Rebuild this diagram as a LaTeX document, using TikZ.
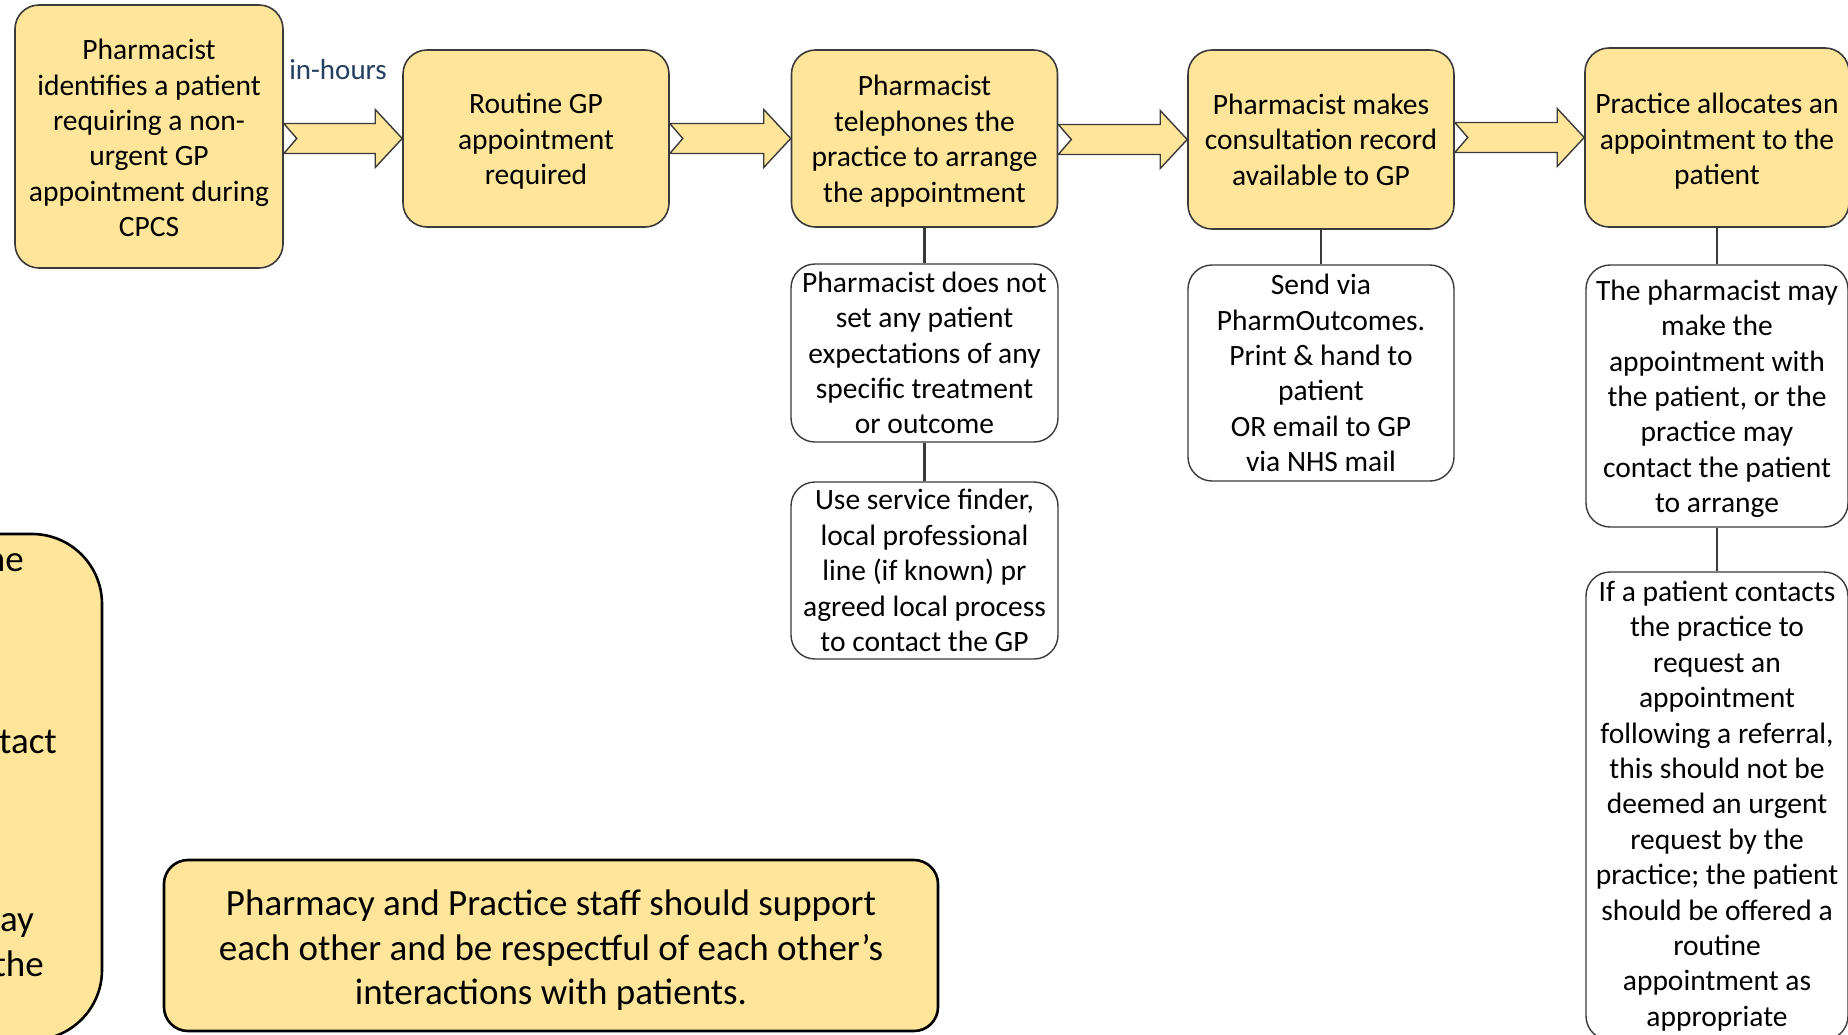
\documentclass[tikz,border=0pt]{standalone}
\usepackage{fontspec}
\setmainfont{Carlito}
\usetikzlibrary{calc}
\definecolor{boxfill}{HTML}{FFE599}
\definecolor{boxline}{HTML}{3A3A3A}
\definecolor{labelblue}{HTML}{243F60}
\tikzset{
  stage/.style={draw=boxline, fill=boxfill, line width=1.6pt, rounded corners=24pt,
    minimum width=266pt, minimum height=177pt, inner sep=0pt, align=center,
    font=\fontsize{29.5}{35.4}\selectfont},
  note/.style={draw=boxline, fill=white, line width=1.4pt, rounded corners=24pt,
    minimum width=266pt, inner sep=0pt, align=center,
    font=\fontsize{29.5}{35.4}\selectfont},
  banner/.style={draw=black, fill=boxfill, line width=2.6pt, rounded corners=24pt,
    align=center, inner sep=0pt, font=\fontsize{37}{44.5}\selectfont},
  link/.style={draw=boxline, line width=2.2pt},
  flow/.style={draw=boxline, fill=boxfill, line width=1.4pt, line join=miter},
  frag/.style={anchor=base east, inner sep=0pt, font=\fontsize{37}{44.5}\selectfont},
}
\newcommand\lowered[2]{\raisebox{-#1}[\height][\depth]{\begin{tabular}{@{}c@{}}#2\end{tabular}}}
\newcommand\flowarrow[2]{%
  \path (#1.east |- #2.west) coordinate (fa-t) (#2.west) coordinate (fa-h);
  \draw[flow] ($(fa-t)+(0,-15)$) -- ($(fa-h)+(-27,-15)$) -- ($(fa-h)+(-27,-29)$)
    -- (fa-h) -- ($(fa-h)+(-27,29)$) -- ($(fa-h)+(-27,15)$) -- ($(fa-t)+(0,15)$)
    -- ($(fa-t)+(13,0)$) -- cycle;}
\begin{document}
\begin{tikzpicture}[x=1pt,y=-1pt]
\useasboundingbox (0,0) rectangle (1848,1034);
\clip (0,0) rectangle (1848,1034);
\fill[white] (0,0) rectangle (1848,1034);

% main stages
\node[stage, minimum width=268pt, minimum height=263pt] (b1) at (149,136.5)
  {\lowered{4.7pt}{Pharmacist\\identifies a patient\\requiring a non-\\urgent GP\\appointment during\\CPCS}};
\node[stage] (b2) at (536,138.5) {\lowered{3.5pt}{Routine GP\\appointment\\required}};
\node[stage] (b3) at (924.5,138.5) {\lowered{3.5pt}{Pharmacist\\telephones the\\practice to arrange\\the appointment}};
\node[stage, minimum height=179pt] (b4) at (1321,139.5) {Pharmacist makes\\consultation record\\available to GP};
\node[stage, minimum width=264pt, minimum height=179pt] (b5) at (1717,137.5) {\lowered{4.7pt}{Practice allocates an\\appointment to the\\patient}};

\node[font=\fontsize{29}{35}\selectfont, text=labelblue] (inh) at (338,70) {in-hours};

% notes
\node[note, minimum width=267pt, minimum height=178pt] (n3a) at (924.5,353)
  {Pharmacist does not\\set any patient\\expectations of any\\specific treatment\\or outcome};
\node[note, minimum width=267pt, minimum height=177pt] (n3b) at (924.5,570.5)
  {Use service finder,\\local professional\\line (if known) pr\\agreed local process\\to contact the GP};
\node[note, minimum height=216pt] (n4a) at (1321,373)
  {Send via\\PharmOutcomes.\\Print \& hand to\\patient\\OR email to GP\\via NHS mail};
\node[note, minimum width=262pt, minimum height=262pt] (n5a) at (1717,396)
  {\lowered{3.5pt}{The pharmacist may\\make the\\appointment with\\the patient, or the\\practice may\\contact the patient\\to arrange}};
\node[note, minimum width=262pt, minimum height=468pt] (n5b) at (1717,806)
  {If a patient contacts\\the practice to\\request an\\appointment\\following a referral,\\this should not be\\deemed an urgent\\request by the\\practice; the patient\\should be offered a\\routine\\appointment as\\appropriate};

% connectors
\draw[link] (b3.south) -- (n3a.north);
\draw[link] (n3a.south) -- (n3b.north);
\draw[link] (b4.south) -- (n4a.north);
\draw[link] (b5.south) -- (n5a.north);
\draw[link] (n5a.south) -- (n5b.north);

% block arrows
\flowarrow{b1}{b2}
\flowarrow{b2}{b3}
\flowarrow{b3}{b4}
\flowarrow{b4}{b5}

% left partial box
\node[banner, minimum width=520pt, minimum height=506pt, rounded corners=70pt] (side) at (-158,787) {};
\node[frag] (s1) at (24,571.5) {ne};
\node[frag] (s2) at (57,753) {tact};
\node[frag] (s3) at (34,931) {ay};
\node[frag] (s4) at (44,976) {the};

% bottom banner
\node[banner, minimum width=774pt, minimum height=171pt] (staff) at (551,945.5)
  {\lowered{6pt}{Pharmacy and Practice staff should support\\each other and be respectful of each other’s\\interactions with patients.}};
\end{tikzpicture}
\end{document}
